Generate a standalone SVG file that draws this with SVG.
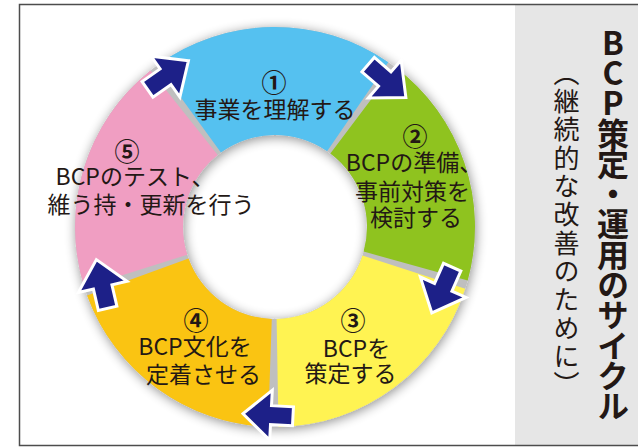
<svg xmlns="http://www.w3.org/2000/svg" width="638" height="448" viewBox="0 0 638 448">
<style>
.lbl{font-family:"Noto Sans CJK JP","Noto Sans CJK SC",sans-serif;font-size:23px;fill:#231815;text-anchor:middle;dominant-baseline:central}
.num{font-family:"Noto Sans CJK JP","Noto Sans CJK SC",sans-serif;font-size:25px;font-weight:bold;fill:#231815;text-anchor:middle;dominant-baseline:central}
.arrow{fill:#1d2088;stroke:#ffffff;stroke-width:3;stroke-linejoin:miter}
.ttl{font-family:"Noto Sans CJK JP","Noto Sans CJK SC",sans-serif;fill:#231815;writing-mode:vertical-rl}
</style>
<defs>
<filter id="sh" x="-20%" y="-20%" width="140%" height="140%">
<feGaussianBlur in="SourceAlpha" stdDeviation="6"/>
<feOffset dx="1" dy="2" result="b"/>
<feComponentTransfer><feFuncA type="linear" slope="0.45"/></feComponentTransfer>
<feMerge><feMergeNode/><feMergeNode in="SourceGraphic"/></feMerge>
</filter>
<path id="arw" d="M25,0 L-3,-25 L-3,-9.5 L-25,-9.5 L-25,9.5 L-3,9.5 L-3,25 Z"/>
</defs>
<rect x="0" y="0" width="638" height="448" fill="#ffffff"/>
<rect x="515" y="4" width="123" height="442" fill="#e6e6e6"/>
<rect x="19.5" y="4.5" width="640" height="441" fill="none" stroke="#4d4d4d" stroke-width="1.5"/>

<path id="ring-base" d="M75,227 A200,200 0 1 1 475,227 A200,200 0 1 1 75,227 Z M183,227 A92,92 0 1 0 367,227 A92,92 0 1 0 183,227 Z" fill="#bfbfbf" fill-rule="evenodd" filter="url(#sh)"/>

<g id="node1">
<path d="M157.44,65.20 A200,200 0 0 1 388.28,62.18 L327.11,151.18 A92,92 0 0 0 220.92,152.57 Z" fill="#55c1f0"/>
<text class="num" x="274" y="81">①</text>
<text class="lbl" x="275" y="108">事業を理解する</text>
</g>
<g id="node2">
<path d="M395.36,67.28 A200,200 0 0 1 467.72,280.44 L363.65,251.58 A92,92 0 0 0 330.37,153.53 Z" fill="#8fc31f"/>
<text class="num" x="415" y="135">②</text>
<text class="lbl" x="414" y="161">BCPの準備、</text>
<text class="lbl" x="412.5" y="190">事前対策を</text>
<text class="lbl" x="416" y="216">検討する</text>
</g>
<g id="node3">
<path d="M465.22,288.80 A200,200 0 0 1 278.49,426.97 L276.61,318.99 A92,92 0 0 0 362.50,255.43 Z" fill="#fff352"/>
<text class="num" x="353" y="319">③</text>
<text class="lbl" x="356.5" y="347">BCPを</text>
<text class="lbl" x="350.5" y="372">策定する</text>
</g>
<g id="node4">
<path d="M268.02,426.88 A200,200 0 0 1 87.06,295.40 L188.55,258.46 A92,92 0 0 0 271.79,318.94 Z" fill="#fac412"/>
<text class="num" x="196" y="319">④</text>
<text class="lbl" x="195" y="345">BCP文化を</text>
<text class="lbl" x="203.5" y="373">定着させる</text>
</g>
<g id="node5">
<path d="M84.26,287.14 A200,200 0 0 1 150.50,70.48 L217.73,155.00 A92,92 0 0 0 187.26,254.66 Z" fill="#f09ec2"/>
<text class="num" x="127" y="150">⑤</text>
<text class="lbl" x="135" y="175">BCPのテスト、</text>
<text class="lbl" x="151" y="202.5">維う持・更新を行う</text>
</g>

<g id="connectors">
<use href="#arw" class="arrow" transform="translate(168,75) rotate(-35)"/>
<use href="#arw" class="arrow" transform="translate(387,81) rotate(41)"/>
<use href="#arw" class="arrow" transform="translate(442,290) rotate(114)"/>
<use href="#arw" class="arrow" transform="translate(268,415) rotate(183)"/>
<use href="#arw" class="arrow" transform="translate(102,284) rotate(257)"/>
</g>

<g id="title">
<text class="ttl" x="613" y="26.5" font-size="32" font-weight="bold" letter-spacing="-1.7" style="text-orientation:upright">BCP策定・運用のサイクル</text>
<text class="ttl" x="566.5" y="60" font-size="26" letter-spacing="2.3">（継続的な改善のために）</text>
</g>
</svg>
